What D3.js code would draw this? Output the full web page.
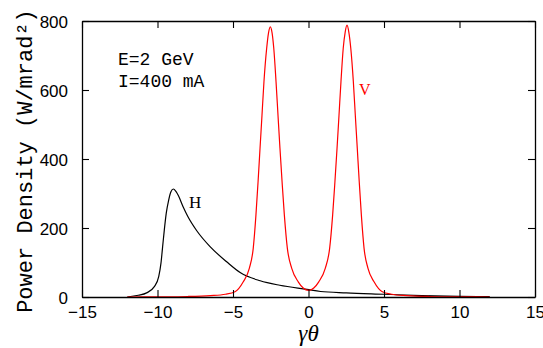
<!DOCTYPE html>
<html>
<head>
<meta charset="utf-8">
<script src="https://cdn.jsdelivr.net/npm/d3@7"></script>
<style>
  html, body { margin: 0; padding: 0; background: #fff; }
  svg { display: block; }
</style>
</head>
<body>
<div id="chart"></div>
<script>
// horizontal polarisation (H)
const hTheta = [-12.0, -11.27, -10.72, -10.21, -9.92, -9.77, -9.66, -9.55, -9.42, -9.26, -9.11, -8.95,
  -8.78, -8.62, -8.29, -8.0, -7.40, -6.52, -5.42, -4.5, -3.2, -1.9, -0.1, 0.8, 2.5, 5.0, 7.5, 10.0, 12.0];
const hPower = [0, 5, 12, 30, 59, 98, 146, 194, 243, 281, 305, 313,
  306, 294, 260, 234, 192, 146, 102, 70, 47, 34, 22, 16, 12, 8, 4, 2, 1];

// vertical polarisation (V)
const vTheta = [-12, -10, -8, -6.5, -5.5, -4.87, -4.32, -3.92, -3.66, -3.48, -3.34, -3.21, -3.08, -2.95,
  -2.77, -2.65, -2.53, -2.41, -2.30, -2.15, -2.02, -1.89, -1.75, -1.60, -1.40, -1.11, -0.68, -0.35, 0,
  0.35, 0.68, 1.11, 1.40, 1.60, 1.75, 1.89, 2.02, 2.15, 2.30, 2.43, 2.55, 2.67, 2.80, 2.97, 3.10, 3.23,
  3.36, 3.50, 3.68, 3.94, 4.34, 4.89, 5.5, 6.5, 8, 10, 12];
const vPower = [0, 0.5, 1.5, 4, 8, 15, 44, 83, 141, 238, 334, 431, 527, 624,
  721, 765, 783, 765, 721, 624, 527, 431, 334, 238, 141, 83, 44, 26, 19,
  26, 44, 83, 141, 238, 334, 431, 527, 624, 721, 768, 788, 768, 721, 624, 527, 431,
  334, 238, 141, 83, 44, 15, 8, 4, 1.5, 0.5, 0];

const xTicks = [-15, -10, -5, 0, 5, 10, 15];
const yTicks = [0, 200, 400, 600, 800];

const W = 543, H = 348;
const margin = { top: 21, right: 8, bottom: 51, left: 82 };

const svg = d3.select('#chart').append('svg')
  .attr('width', W)
  .attr('height', H);

const x = d3.scaleLinear().domain([-15, 15]).range([margin.left, W - margin.right]);
const y = d3.scaleLinear().domain([0, 800]).range([H - margin.bottom, margin.top]);

const tickFont = 'Liberation Sans, Arial, sans-serif';

// curves
const line = d3.line()
  .x(d => x(d[0]))
  .y(d => y(d[1]))
  .curve(d3.curveMonotoneX);

svg.append('path')
  .datum(hTheta.map((t, i) => [t, hPower[i]]))
  .attr('d', line)
  .attr('fill', 'none')
  .attr('stroke', '#000')
  .attr('stroke-width', 1.2);

svg.append('path')
  .datum(vTheta.map((t, i) => [t, vPower[i]]))
  .attr('d', line)
  .attr('fill', 'none')
  .attr('stroke', '#ff0000')
  .attr('stroke-width', 1.2);

// axes, ticks pointing inward
const gBottom = svg.append('g')
  .attr('transform', `translate(0,${y(0)})`)
  .call(d3.axisBottom(x).tickValues(xTicks).tickSizeInner(-7).tickSizeOuter(0).tickPadding(9));
const gTop = svg.append('g')
  .attr('transform', `translate(0,${y(800)})`)
  .call(d3.axisTop(x).tickValues(xTicks).tickSizeInner(-7).tickSizeOuter(0).tickFormat(''));
const gLeft = svg.append('g')
  .attr('transform', `translate(${x(-15)},0)`)
  .call(d3.axisLeft(y).tickValues(yTicks).tickSizeInner(-7).tickSizeOuter(0).tickPadding(14));
const gRight = svg.append('g')
  .attr('transform', `translate(${x(15)},0)`)
  .call(d3.axisRight(y).tickValues(yTicks).tickSizeInner(-7).tickSizeOuter(0).tickFormat(''));

[gBottom, gTop, gLeft, gRight].forEach(g => {
  g.select('.domain').attr('stroke', '#000').attr('stroke-width', 1.3);
  g.selectAll('.tick line').attr('stroke', '#000').attr('stroke-width', 1.1);
  g.selectAll('.tick text')
    .attr('fill', '#000')
    .style('font-family', tickFont)
    .style('font-size', '17px');
});
gLeft.selectAll('.tick text').attr('dy', '0.36em');

// axis titles
svg.append('text')
  .attr('transform', `translate(32,${(margin.top + y(0)) / 2 + 2}) rotate(-90)`)
  .attr('text-anchor', 'middle')
  .style('font-family', 'Liberation Mono, Courier New, monospace')
  .style('font-size', '22px')
  .attr('fill', '#000')
  .text('Power Density (W/mrad²)');

svg.append('text')
  .attr('x', x(0))
  .attr('y', 341)
  .attr('text-anchor', 'middle')
  .style('font-family', 'Liberation Serif, Times New Roman, serif')
  .style('font-style', 'italic')
  .style('font-size', '23px')
  .attr('fill', '#000')
  .text('γθ');

// annotations
const notes = ['E=2 GeV', 'I=400 mA'];
svg.selectAll('.note')
  .data(notes)
  .join('text')
    .attr('class', 'note')
    .attr('x', 118)
    .attr('y', (d, i) => 65 + i * 22)
    .style('font-family', 'Liberation Mono, Courier New, monospace')
    .style('font-size', '18px')
    .attr('fill', '#000')
    .text(d => d);

svg.append('text')
  .attr('x', 189)
  .attr('y', 208)
  .style('font-family', 'Liberation Serif, Times New Roman, serif')
  .style('font-size', '17px')
  .attr('fill', '#000')
  .text('H');

svg.append('text')
  .attr('x', 359)
  .attr('y', 95)
  .style('font-family', 'Liberation Serif, Times New Roman, serif')
  .style('font-size', '16px')
  .attr('fill', '#ff0000')
  .text('V');
</script>
</body>
</html>
